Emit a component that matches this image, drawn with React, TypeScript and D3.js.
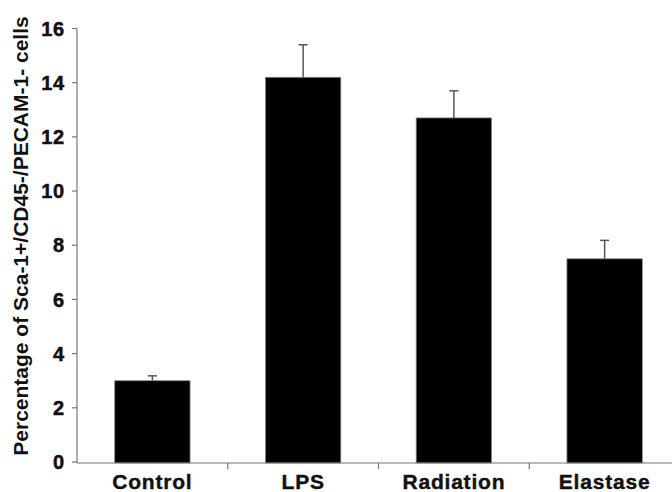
import { scaleBand, scaleLinear } from "d3";

const width = 672;
const height = 492;

const categories = ["Control", "LPS", "Radiation", "Elastase"];
const means = [3.0, 14.2, 12.7, 7.5];
const errors = [0.18, 1.2, 1.0, 0.68];
const yTicks = [0, 2, 4, 6, 8, 10, 12, 14, 16];
const yTitle = "Percentage of Sca-1+/CD45-/PECAM-1- cells";

const x0 = 77;
const axisY = 463;

export default function App() {
    const yScale = scaleLinear().domain([0, 16]).range([462, 28.5]);
    const xScale = scaleBand()
        .domain(categories)
        .range([x0, x0 + 603])
        .paddingInner(0.5)
        .paddingOuter(0.25);
    const step = xScale.step();
    const font = "'Liberation Sans', Arial, Helvetica, sans-serif";
    const gray = "#777";

    return (
        <svg width={width} height={height} style={{ position: "absolute", left: 0, top: 0 }}>
            <rect width={width} height={height} fill="#fff" />
            {/* y title */}
            <text
                transform={`translate(28,236) rotate(-90)`}
                textAnchor="middle"
                fontFamily={font}
                fontWeight="bold"
                fontSize={21}
                fill="#111"
            >
                {yTitle}
            </text>
            {/* y axis */}
            <line x1={x0} x2={x0} y1={yScale(16)} y2={axisY} stroke={gray} strokeWidth={1.2} />
            {yTicks.map(t => (
                <g key={t}>
                    <line x1={x0 - 5} x2={x0} y1={yScale(t)} y2={yScale(t)} stroke={gray} strokeWidth={1.2} />
                    <text
                        x={x0 - 12}
                        y={yScale(t)}
                        dy="0.36em"
                        textAnchor="end"
                        fontFamily={font}
                        fontWeight="bold"
                        fontSize={20}
                        letterSpacing={0.8}
                        stroke="#111"
                        strokeWidth={0.5}
                        fill="#111"
                    >
                        {t}
                    </text>
                </g>
            ))}
            {/* bars */}
            {categories.map((c, i) => (
                <rect
                    key={c}
                    x={xScale(c)}
                    y={yScale(means[i])}
                    width={xScale.bandwidth()}
                    height={axisY - yScale(means[i])}
                    fill="#000"
                    stroke="#888"
                    strokeWidth={0.8}
                />
            ))}
            {/* error bars */}
            {categories.map((c, i) => {
                const cx = (xScale(c) as number) + xScale.bandwidth() / 2;
                const top = yScale(means[i] + errors[i]);
                return (
                    <g key={c} stroke="#555" strokeWidth={1.5}>
                        <line x1={cx} x2={cx} y1={yScale(means[i])} y2={top} />
                        <line x1={cx - 4.5} x2={cx + 4.5} y1={top} y2={top} />
                    </g>
                );
            })}
            {/* x axis */}
            <line x1={x0} x2={width} y1={axisY} y2={axisY} stroke={gray} strokeWidth={1.2} />
            {categories.slice(1).map(c => (
                <line
                    key={c}
                    x1={(xScale(c) as number) - step * 0.25}
                    x2={(xScale(c) as number) - step * 0.25}
                    y1={axisY}
                    y2={axisY + 6}
                    stroke={gray}
                    strokeWidth={1.2}
                />
            ))}
            {categories.map(c => (
                <text
                    key={c}
                    x={(xScale(c) as number) + xScale.bandwidth() / 2}
                    y={489}
                    textAnchor="middle"
                    fontFamily={font}
                    fontWeight="bold"
                    fontSize={21}
                    letterSpacing={0.8}
                    stroke="#111"
                    strokeWidth={0.4}
                    fill="#111"
                >
                    {c}
                </text>
            ))}
        </svg>
    );
}
